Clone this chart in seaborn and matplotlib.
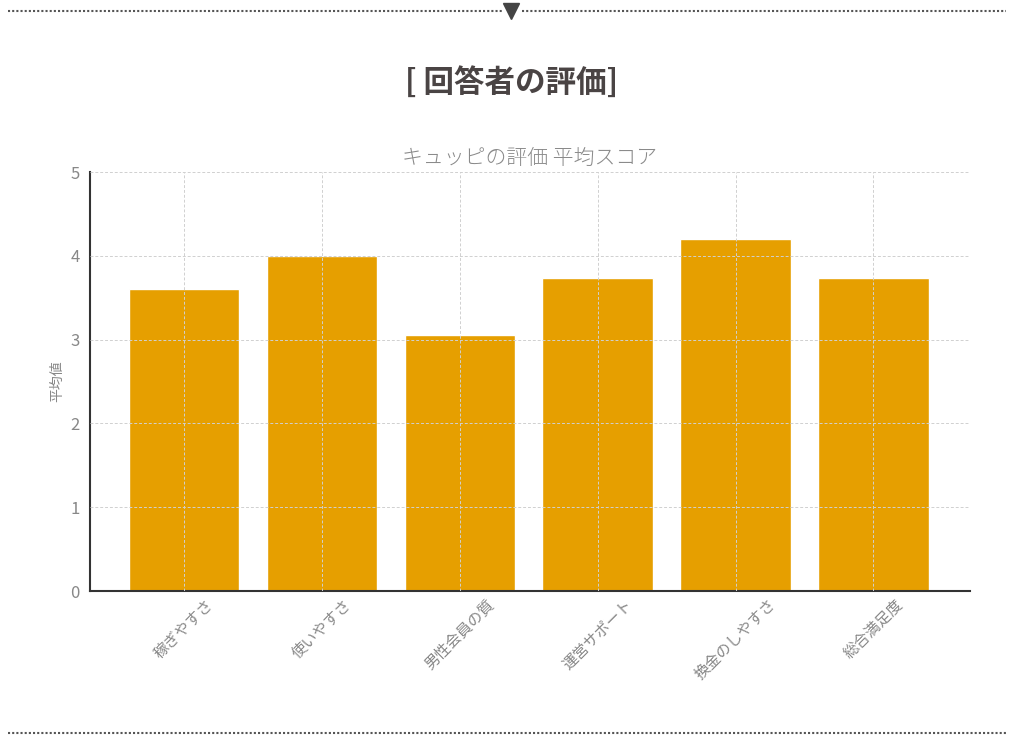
import matplotlib
matplotlib.use("Agg")
import matplotlib.pyplot as plt
from matplotlib.lines import Line2D
import pandas as pd
import seaborn as sns

categories = ["稼ぎやすさ", "使いやすさ", "男性会員の質", "運営サポート", "換金のしやすさ", "総合満足度"]
scores = [3.6, 4.0, 3.05, 3.73, 4.2, 3.73]
y_ticks = [0, 1, 2, 3, 4, 5]

sns.set_theme(style="white")
plt.rcParams["font.family"] = ["Noto Sans CJK JP", "DejaVu Sans"]

df = pd.DataFrame({"項目": categories, "平均値": scores})

fig = plt.figure(figsize=(10.24, 7.44), dpi=100)
ax = fig.add_axes([0.0879, 0.2056, 0.8594, 0.5632])

sns.barplot(data=df, x="項目", y="平均値", color="#E69F00", saturation=1,
            width=0.8, ax=ax)

ax.set_ylim(0, 5)
ax.set_xlim(-0.68, 5.7)
ax.set_yticks(y_ticks)
ax.grid(True, linestyle=(0, (3, 2)), color="#d0d0d0", linewidth=0.7)
ax.set_axisbelow(False)

for s in ["top", "right"]:
    ax.spines[s].set_visible(False)
ax.spines["left"].set_color("#333333")
ax.spines["bottom"].set_color("#333333")
ax.spines["left"].set_linewidth(1.5)
ax.spines["bottom"].set_linewidth(1.5)

ax.tick_params(axis="y", colors="#888888", labelsize=12, length=4)
ax.tick_params(axis="y", color="#333333")
ax.tick_params(axis="x", colors="#888888", labelsize=11, length=0)
plt.setp(ax.get_xticklabels(), rotation=45)
ax.set_xlabel("")
ax.set_ylabel("平均値", color="#888888", fontsize=10)
ax.set_title("キュッピの評価 平均スコア", color="#8a8a8a", fontsize=15,
             fontweight="light", pad=6)

# header / footer decoration
fig.add_artist(Line2D([0.008, 0.49], [0.985, 0.985], transform=fig.transFigure,
                      linestyle=(0, (1, 1)), color="#555555", linewidth=1.5))
fig.add_artist(Line2D([0.51, 0.982], [0.985, 0.985], transform=fig.transFigure,
                      linestyle=(0, (1, 1)), color="#555555", linewidth=1.5))
fig.add_artist(Line2D([0.499], [0.985], transform=fig.transFigure, marker="v",
                      markersize=12, color="#444444", linestyle="none"))
fig.add_artist(Line2D([0.008, 0.982], [0.0148, 0.0148], transform=fig.transFigure,
                      linestyle=(0, (1, 1)), color="#555555", linewidth=1.5))
fig.text(0.5, 0.888, "[ 回答者の評価]", ha="center", va="center",
         fontsize=22, fontweight="bold", color="#4a4444")

fig.savefig("out.png", dpi=100, facecolor="white")
